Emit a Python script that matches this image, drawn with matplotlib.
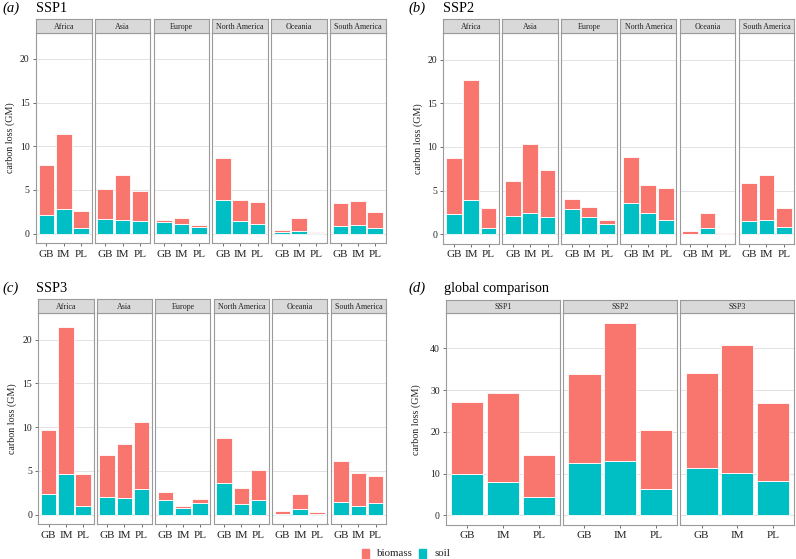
import numpy as np
import matplotlib.pyplot as plt
from matplotlib.patches import Rectangle

plt.rcParams['font.family'] = ['Liberation Serif', 'DejaVu Serif']

regions = ['Africa', 'Asia', 'Europe', 'North America', 'Oceania', 'South America']
methods = ['GB', 'IM', 'PL']
scenarios = ['SSP1', 'SSP2', 'SSP3']

# bar tops (biomass + soil) and soil part, one row per region: GB, IM, PL
ssp1_total = [[7.9, 11.4, 2.6], [5.1, 6.7, 4.9], [1.6, 1.8, 1.0],
              [8.7, 3.9, 3.6], [0.4, 1.8, 0.15], [3.5, 3.7, 2.5]]
ssp1_soil = [[2.1, 2.8, 0.6], [1.7, 1.6, 1.5], [1.3, 1.1, 0.75],
             [3.9, 1.4, 1.1], [0.2, 0.3, 0.05], [0.9, 1.0, 0.7]]

ssp2_total = [[8.7, 17.7, 3.0], [6.1, 10.3, 7.4], [4.0, 3.1, 1.6],
              [8.8, 5.7, 5.3], [0.4, 2.5, 0.15], [5.9, 6.8, 3.0]]
ssp2_soil = [[2.3, 3.9, 0.7], [2.1, 2.5, 2.0], [2.9, 2.0, 1.2],
             [3.6, 2.5, 1.7], [0.1, 0.7, 0.05], [1.5, 1.7, 0.8]]

ssp3_total = [[9.7, 21.4, 4.7], [6.8, 8.1, 10.6], [2.6, 1.0, 1.8],
              [8.7, 3.1, 5.1], [0.4, 2.4, 0.25], [6.1, 4.8, 4.4]]
ssp3_soil = [[2.4, 4.6, 1.0], [2.0, 1.9, 2.9], [1.7, 0.8, 1.3],
             [3.6, 1.2, 1.7], [0.1, 0.7, 0.1], [1.5, 1.0, 1.3]]

global_total = [[27.1, 29.2, 14.5], [33.9, 46.1, 20.5], [34.2, 40.8, 26.8]]
global_soil = [[9.8, 7.9, 4.4], [12.6, 13.1, 6.3], [11.3, 10.2, 8.3]]

BIOMASS = '#F8766D'
SOIL = '#00BFC4'
BORDER = '#9A9A9A'

W, H = 796, 559
fig = plt.figure(figsize=(W / 100, H / 100), dpi=100)


def facet_row(left, right, strip_top, strip_bot, bottom, gap, labels,
              totals, soils, ylim, yticks, ylabel_x):
    n = len(labels)
    pw = (right - left - gap * (n - 1)) / n
    x = np.arange(len(methods))
    for i in range(n):
        x0 = left + i * (pw + gap)
        ax = fig.add_axes([x0 / W, 1 - bottom / H, pw / W, (bottom - strip_bot) / H])
        tot = np.array(totals[i])
        soil = np.array(soils[i])
        ax.bar(x, soil, width=0.9, color=SOIL, edgecolor='white', linewidth=0.6, zorder=2)
        ax.bar(x, tot - soil, bottom=soil, width=0.9, color=BIOMASS,
               edgecolor='white', linewidth=0.6, zorder=2)
        ax.set_xlim(-0.6, 2.6)
        ax.set_ylim(*ylim)
        ax.set_yticks(yticks)
        ax.set_xticks(x)
        ax.set_xticklabels(methods)
        ax.grid(axis='y', color='#E3E3E3', linewidth=0.7, zorder=0)
        ax.set_axisbelow(True)
        for s in ax.spines.values():
            s.set_color(BORDER)
            s.set_linewidth(0.8)
        ax.tick_params(length=2.5, width=0.6, color='#555555',
                       labelcolor='#222222', pad=2)
        ax.tick_params(axis='x', labelsize=8)
        ax.tick_params(axis='y', labelsize=7)
        if i > 0:
            ax.tick_params(axis='y', left=False, labelleft=False)

        st = fig.add_axes([x0 / W, 1 - strip_bot / H, pw / W, (strip_bot - strip_top) / H])
        st.set_facecolor('#D9D9D9')
        st.set_xticks([])
        st.set_yticks([])
        for s in st.spines.values():
            s.set_color(BORDER)
            s.set_linewidth(0.8)
        st.text(0.5, 0.45, labels[i], ha='center', va='center', fontsize=5.8,
                color='#222222', transform=st.transAxes)

    fig.text(ylabel_x / W, 1 - (strip_bot + bottom) / 2 / H, 'carbon loss (GM)',
             rotation=90, ha='center', va='center', fontsize=7.2, color='#222222')


def title(x_tag, x_txt, y, tag, txt):
    fig.text(x_tag / W, 1 - y / H, tag, fontsize=10.5, style='italic', va='center')
    fig.text(x_txt / W, 1 - y / H, txt, fontsize=10.3, va='center')


ylim_reg = (-1.1, 23.0)
ticks_reg = [0, 5, 10, 15, 20]

facet_row(36, 385.7, 19, 32.7, 243.3, 3.3, regions, ssp1_total, ssp1_soil,
          ylim_reg, ticks_reg, 10)
facet_row(443.3, 794.3, 19, 33.3, 244, 3.3, regions, ssp2_total, ssp2_soil,
          ylim_reg, ticks_reg, 418)
facet_row(38.3, 386, 299.3, 313.3, 524.3, 3.3, regions, ssp3_total, ssp3_soil,
          ylim_reg, ticks_reg, 12)
facet_row(446, 794.3, 300, 313.3, 525, 3, scenarios, global_total, global_soil,
          (-2.3, 48.4), [0, 10, 20, 30, 40], 416)

title(2, 36, 8, '(a)', 'SSP1')
title(408, 443, 8, '(b)', 'SSP2')
title(2, 36, 288.5, '(c)', 'SSP3')
title(408, 444, 288.5, '(d)', 'global comparison')

# legend
for px, lab, col in [(361.5, 'biomass', BIOMASS), (419.3, 'soil', SOIL)]:
    fig.patches.append(Rectangle((px / W, 1 - 557.5 / H), 7 / W, 9 / H,
                                 transform=fig.transFigure, color=col))
    fig.text((px + 15) / W, 1 - 553 / H, lab, fontsize=7.8, va='center', color='#222222')

fig.savefig('out.png', dpi=100)
